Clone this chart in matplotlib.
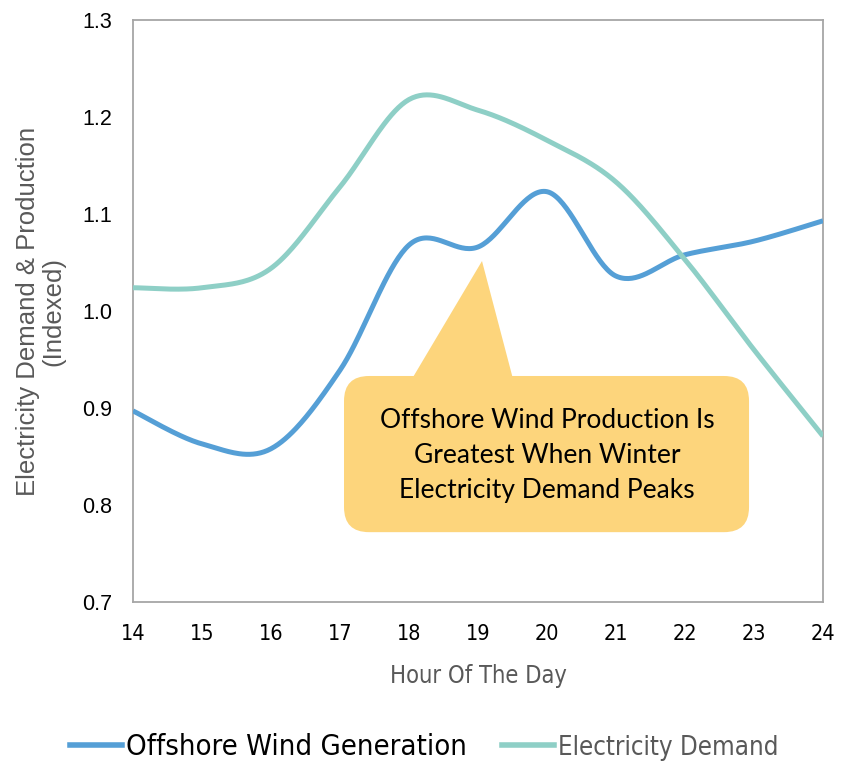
import numpy as np
import matplotlib
matplotlib.use("Agg")
import matplotlib.pyplot as plt
from matplotlib.patches import FancyBboxPatch, Polygon
from matplotlib.lines import Line2D

hours = [14, 15, 16, 17, 18, 19, 20, 21, 22, 23, 24]
wind = [0.897, 0.863, 0.858, 0.939, 1.068, 1.066, 1.123, 1.036, 1.058, 1.072, 1.093]
demand = [1.024, 1.024, 1.044, 1.128, 1.218, 1.207, 1.176, 1.133, 1.053, 0.960, 0.871]
yticks = [0.7, 0.8, 0.9, 1.0, 1.1, 1.2, 1.3]
callout_text = "Offshore Wind Production Is\nGreatest When Winter\nElectricity Demand Peaks"

arial = "Liberation Sans"
calibri = "Lato"
narrow = {"family": "DejaVu Sans", "stretch": "condensed"}


def smooth(x, y, n=40):
    # Catmull-Rom style smoothing similar to spreadsheet "smoothed line"
    x = np.asarray(x, float)
    y = np.asarray(y, float)
    px = np.concatenate([[x[0]], x, [x[-1]]])
    py = np.concatenate([[y[0]], y, [y[-1]]])
    xs, ys = [], []
    for i in range(1, len(px) - 2):
        p0, p1, p2, p3 = (np.array([px[j], py[j]]) for j in (i - 1, i, i + 1, i + 2))
        c1 = p1 + (p2 - p0) / 6
        c2 = p2 - (p3 - p1) / 6
        t = np.linspace(0, 1, n)[:, None]
        pts = (1 - t) ** 3 * p1 + 3 * (1 - t) ** 2 * t * c1 + 3 * (1 - t) * t ** 2 * c2 + t ** 3 * p2
        xs.append(pts[:, 0]); ys.append(pts[:, 1])
    return np.concatenate(xs), np.concatenate(ys)


fig = plt.figure(figsize=(8.48, 7.61), dpi=100)
ax = fig.add_axes([133 / 848, 1 - 602 / 761, 690 / 848, 582 / 761])

wind_c = "#559FD6"
dem_c = "#8ECFC6"

wx, wy = smooth(hours, wind)
dx, dy = smooth(hours, demand)
ax.plot(wx, wy, color=wind_c, lw=3.6, solid_capstyle="butt", zorder=3)
ax.plot(dx, dy, color=dem_c, lw=3.6, solid_capstyle="butt", zorder=4)

ax.set_xlim(14, 24)
ax.set_ylim(0.7, 1.3)
ax.set_xticks(hours)
ax.set_xticklabels([str(h) for h in hours], fontfamily=narrow["family"],
                   fontstretch=narrow["stretch"], fontsize=15.5)
ax.set_yticks(yticks)
ax.set_yticklabels([f"{v:.1f}" for v in yticks], fontfamily=arial, fontsize=15.5)
ax.tick_params(axis="x", length=0, pad=16)
ax.tick_params(axis="y", length=0, pad=15)
for s in ax.spines.values():
    s.set_color("#A6A6A6")
    s.set_linewidth(1.3)

ax.set_xlabel("Hour Of The Day", fontfamily=narrow["family"], fontstretch=narrow["stretch"],
              fontsize=17, color="#595959", labelpad=14)
ax.set_ylabel("Electricity Demand & Production\n(Indexed)", fontfamily=arial, fontsize=18.5,
              color="#595959", labelpad=12, linespacing=1.05)

# callout
xpp = 10 / 690
ypp = 0.6 / 582
box_fc = "#FDD57C"
box = FancyBboxPatch((17.058, 0.772), 22.928 - 17.058, 0.933 - 0.772,
                     boxstyle="round,pad=0,rounding_size=%f" % (25 * xpp),
                     mutation_aspect=ypp / xpp, fc=box_fc, ec="none", zorder=5)
ax.add_patch(box)
tri = Polygon([(18.043, 0.930), (19.507, 0.930), (19.058, 1.0515)], closed=True,
              fc=box_fc, ec="none", zorder=5)
ax.add_patch(tri)
ax.text(20.0, 0.851, callout_text, ha="center", va="center", fontfamily=calibri,
        fontsize=19, linespacing=1.5, color="black", zorder=6)

handles = [Line2D([], [], color=wind_c, lw=4), Line2D([], [], color=dem_c, lw=4)]
leg = fig.legend(handles, ["Offshore Wind Generation", "Electricity Demand"], loc="center",
                 bbox_to_anchor=(0.5, 1 - 747 / 761), ncol=2, frameon=False,
                 prop={"family": narrow["family"], "stretch": narrow["stretch"], "size": 21},
                 handlelength=1.8, handletextpad=0.12, columnspacing=1.2)
leg.get_texts()[1].set_color("#595959")
leg.get_texts()[1].set_fontsize(18.5)

fig.savefig("out.png", dpi=100)
